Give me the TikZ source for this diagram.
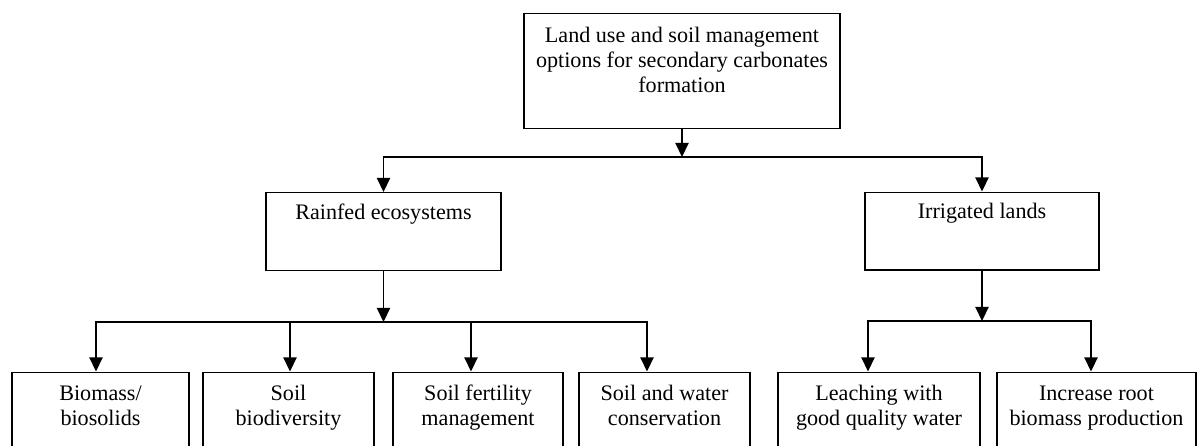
\documentclass[tikz,border=0pt]{standalone}
\usepackage{fontspec}
\setmainfont{Liberation Serif}
\usetikzlibrary{arrows.meta}
\newcommand{\boxtext}[1]{\begin{tabular}[t]{@{}c@{}}#1\end{tabular}}
\tikzset{
  box/.style={draw, line width=0.8pt, anchor=north, inner xsep=3pt,
    inner ysep=6pt, text height=9pt, font=\fontsize{12.6}{14.2}\selectfont},
  arr/.style={line width=0.9pt, -{Triangle[width=7.5pt,length=8pt]}},
  bus/.style={line width=0.9pt, line cap=rect}
}
\begin{document}
\begin{tikzpicture}[x=0.02cm, y=-0.02cm]
    \useasboundingbox (0,0) rectangle (1197,446);
    % top level
    \node[box, minimum width=6.32cm, text height=10.4pt, text depth=42.8pt] (opt) at (682,13)
        {\boxtext{Land use and soil management\\options for secondary carbonates\\formation}};
    % second level
    \node[box, minimum width=4.7cm, text depth=23.2pt] (rain) at (383.5,192) {Rainfed ecosystems};
    \node[box, minimum width=4.68cm, text depth=23.2pt] (irr) at (982,191.5) {Irrigated lands};
    % third level
    \node[box, minimum width=3.54cm, text height=10pt, text depth=34.7pt] (bio) at (100.5,371.5) {\boxtext{Biomass/\\biosolids}};
    \node[box, minimum width=3.42cm, text height=10pt, text depth=34.7pt] (div) at (288.5,371.5) {\boxtext{Soil\\biodiversity}};
    \node[box, minimum width=3.4cm, text height=10pt, text depth=34.7pt] (fert) at (478,371.5) {\boxtext{Soil fertility\\management}};
    \node[box, minimum width=3.42cm, text height=10pt, text depth=34.7pt] (cons) at (664.5,371.5) {\boxtext{Soil and water\\conservation}};
    \node[box, minimum width=4.04cm, text height=10pt, text depth=34.7pt] (leach) at (879,371.5) {\boxtext{Leaching with\\good quality water}};
    \node[box, minimum width=3.98cm, text height=10pt, text depth=34.7pt] (root) at (1096.5,371.5) {\boxtext{Increase root\\biomass production}};
    % connectors
    \coordinate (bus1) at (682,157);
    \draw[arr] (opt.south) -- (bus1);
    \draw[bus] (rain.north |- bus1) -- (irr.north |- bus1);
    \draw[arr] (rain.north |- bus1) -- (rain.north);
    \draw[arr] (irr.north |- bus1) -- (irr.north);
    \coordinate (t1) at (96,322);
    \coordinate (t2) at (290,322);
    \coordinate (t3) at (471,322);
    \coordinate (t4) at (647,322);
    \draw[arr] (rain.south) -- (rain.south |- t1);
    \draw[bus] (t1) -- (t4);
    \foreach \t/\b in {t1/bio, t2/div, t3/fert, t4/cons}
        \draw[arr] (\t) -- (\t |- \b.north);
    \coordinate (t5) at (868,321);
    \coordinate (t6) at (1091,321);
    \draw[arr] (irr.south) -- (irr.south |- t5);
    \draw[bus] (t5) -- (t6);
    \draw[arr] (t5) -- (t5 |- leach.north);
    \draw[arr] (t6) -- (t6 |- root.north);
\end{tikzpicture}
\end{document}
